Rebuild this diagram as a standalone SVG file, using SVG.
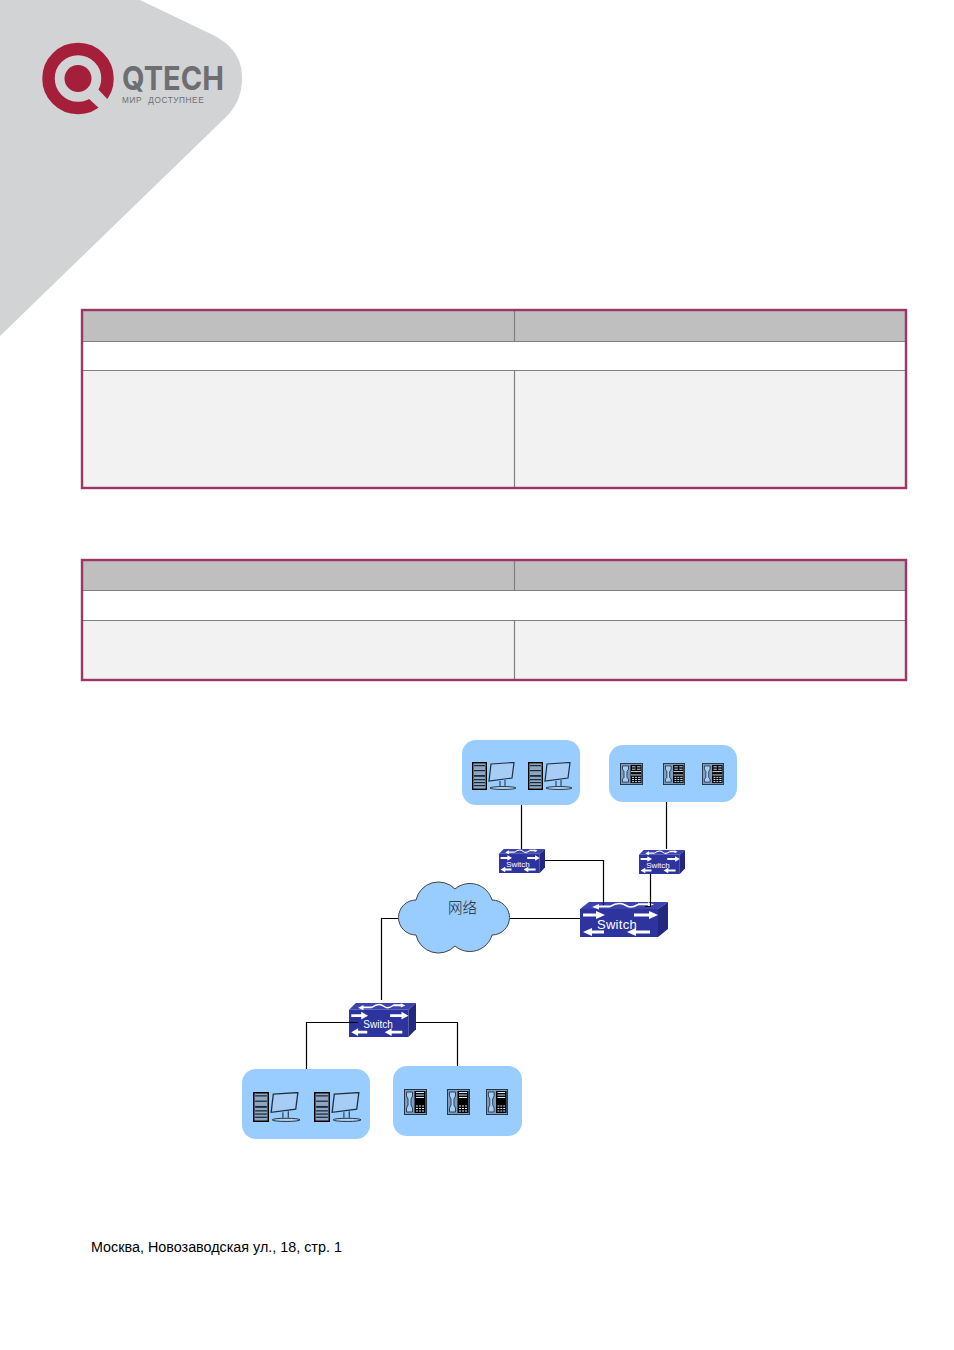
<svg xmlns="http://www.w3.org/2000/svg" xmlns:xlink="http://www.w3.org/1999/xlink" width="954" height="1350" viewBox="0 0 954 1350">
<style>
.sans{font-family:"Liberation Sans",Arial,sans-serif}
.group{fill:#99ccff}
.wire{fill:none;stroke:#000;stroke-width:1.2}
.outer{fill:none;stroke:#9b3667;stroke-width:2.4}
.inner{stroke:#808080;stroke-width:1.2;fill:none}
.head{fill:#bfbfbf}
.body{fill:#f2f2f2}
.sw{fill:#fff;font-family:"Liberation Sans",Arial,sans-serif;text-anchor:middle}
</style>
<defs>
<symbol id="switch" viewBox="0 0 88 35" preserveAspectRatio="none">
<polygon points="0,7 78,7 78,35 0,35" fill="#2d349e"/>
<polygon points="0,7 9,0 88,0 78,7" fill="#3c43ad"/>
<polygon points="78,7 88,0 88,27 78,35" fill="#23277f"/>
<g fill="#fff">
<polygon points="3,11.500 16,11.500 16,9 25,13 16,17 16,14.500 3,14.500"/>
<polygon points="54,11.500 69,11.500 69,9 78,13 69,17 69,14.500 54,14.500"/>
<polygon points="24,28.500 12,28.500 12,26 3,30 12,34 12,31.500 24,31.500"/>
<polygon points="70,28.500 56,28.500 56,26 47,30 56,34 56,31.500 70,31.500"/>
<polygon points="30,3.500 19,3.500 19,2 12,5 19,7.500 19,5.500 30,5.500"/>
<polygon points="58,1.200 68,1.200 68,0.300 74,2.500 68,4.700 68,3.300 58,3.300"/>
<path d="M30 4.500C36 1 42 1 46 3.500C50 6 54 5 58 2.500" fill="none" stroke="#fff" stroke-width="1.500"/>
</g>
</symbol>
<symbol id="pc" viewBox="0 0 44 28" preserveAspectRatio="none">
<rect x="0.700" y="0.700" width="13.600" height="26.600" fill="#8ea6bf" stroke="#000" stroke-width="1.400"/>
<g fill="#1c2c3e">
<rect x="2" y="3" width="11" height="1.200"/><rect x="2" y="8" width="11" height="1.200"/><rect x="2" y="13" width="11" height="1.800"/><rect x="2" y="17" width="11" height="1.200"/><rect x="2" y="20" width="11" height="1.200"/><rect x="2" y="23" width="11" height="1.200"/>
</g>
<polygon points="19,2 42,0.500 40,16 17,19" fill="#a8cdf5" stroke="#1f2f40" stroke-width="1.200"/>
<path d="M28 19V24M33 18V24" stroke="#1f2f40" fill="none"/>
<ellipse cx="31" cy="26" rx="13" ry="1.500" fill="#b6d2ee" stroke="#1f2f40" stroke-width="0.900"/>
</symbol>
<symbol id="phone" viewBox="0 0 23 23" preserveAspectRatio="none">
<rect x="0.500" y="0.500" width="22" height="22" fill="#7f9dbd" stroke="#24364a"/>
<path d="M2.500 3H8.500V6.500L7 9V15L8.500 17V20H2.500V17L4 15V9L2.500 6.500Z" fill="#a6cdf5" stroke="#24364a" stroke-width="0.900"/>
<rect x="10.500" y="2" width="11" height="19" fill="#000"/>
<g fill="#d8e8f8">
<rect x="12" y="3.500" width="3.500" height="1"/><rect x="17" y="3.500" width="3.500" height="1"/><rect x="12" y="6" width="3.500" height="1"/><rect x="17" y="6" width="3.500" height="1"/>
<rect x="11" y="8.500" width="10" height="1"/><rect x="11" y="12" width="10" height="1"/>
<rect x="12" y="14.500" width="2" height="1"/><rect x="15" y="14.500" width="2" height="1"/><rect x="18" y="14.500" width="2.500" height="1"/>
<rect x="12" y="16.800" width="2" height="1"/><rect x="15" y="16.800" width="2" height="1"/><rect x="18" y="16.800" width="2.500" height="1"/>
<rect x="12" y="19" width="2" height="1"/><rect x="15" y="19" width="2" height="1"/><rect x="18" y="19" width="2.500" height="1"/>
</g>
</symbol>
<symbol id="phone-tall" viewBox="0 0 23 26" preserveAspectRatio="none">
<rect x="0.500" y="0.500" width="22" height="25" fill="#7f9dbd" stroke="#24364a"/>
<path d="M2.500 3H8.500V7L7 10V16L8.500 19V23H2.500V19L4 16V10L2.500 7Z" fill="#a6cdf5" stroke="#24364a" stroke-width="0.900"/>
<rect x="10.500" y="2" width="11" height="22" fill="#000"/>
<g fill="#d8e8f8">
<rect x="12" y="3" width="8" height="1"/><rect x="12" y="5.500" width="8" height="1"/><rect x="12" y="8" width="8" height="1"/>
<rect x="12" y="16.500" width="2" height="1"/><rect x="15" y="16.500" width="2" height="1"/><rect x="18" y="16.500" width="2" height="1"/>
<rect x="12" y="19" width="2" height="1"/><rect x="15" y="19" width="2" height="1"/><rect x="18" y="19" width="2" height="1"/>
<rect x="12" y="21.500" width="2" height="1"/><rect x="15" y="21.500" width="2" height="1"/><rect x="18" y="21.500" width="2" height="1"/>
</g>
</symbol>
</defs>
<rect width="954" height="1350" fill="#fff"/>
<g id="logo">
<path d="M140 0L213 35C236 47 242 62 242 78C242 92 238 104 228 115L0 336V0Z" fill="#d1d3d4"/>
<circle cx="78" cy="78.500" r="29.500" fill="none" stroke="#a51e3a" stroke-width="12.500"/>
<circle cx="78" cy="78.500" r="13.500" fill="#a51e3a"/>
<polygon points="97,88 110,102 101,110 88,98" fill="#d1d3d4"/>
<text x="122" y="90" font-size="33" font-weight="700" fill="#6d6e71" font-family="Inter,'Liberation Sans',sans-serif" textLength="102" lengthAdjust="spacingAndGlyphs">QTECH</text>
<text class="sans" x="122" y="103" font-size="8.200" fill="#6d6e71" letter-spacing="0.600" word-spacing="3.500">МИР ДОСТУПНЕЕ</text>
</g>
<g id="table-1">
<rect class="head" x="82" y="310" width="824" height="31"/>
<rect class="body" x="82" y="370" width="824" height="118"/>
<path class="inner" d="M82 341.500H906M82 370.500H906M514.500 310V341M514.500 370V488"/>
<rect class="outer" x="82" y="310" width="824" height="178"/>
</g>
<g id="table-2">
<rect class="head" x="82" y="560" width="824" height="30"/>
<rect class="body" x="82" y="620" width="824" height="60"/>
<path class="inner" d="M82 590.500H906M82 620.500H906M514.500 560V590M514.500 620V680"/>
<rect class="outer" x="82" y="560" width="824" height="120"/>
</g>
<g id="cloud">
<path d="M416 900A23 23 0 0 1 455 889A23 23 0 0 1 492 900A17.500 17.500 0 0 1 492 935A23 23 0 0 1 455 946A23 23 0 0 1 416 935A17.500 17.500 0 0 1 416 900Z" fill="#99ccff" stroke="#444" stroke-width="1"/>
<text x="448" y="913" font-size="14.500" fill="#222" font-family="'Noto Sans CJK SC',sans-serif" font-weight="300">网络</text>
</g>
<g id="switch-core">
<use xlink:href="#switch" href="#switch" x="580" y="902" width="88" height="35"/>
<text class="sw" x="617" y="929" font-size="13" letter-spacing="0.300">Switch</text>
</g>
<g id="switch-a">
<use xlink:href="#switch" href="#switch" x="499" y="849" width="46" height="24"/>
<text class="sw" x="518" y="867" font-size="8">Switch</text>
</g>
<g id="switch-b">
<use xlink:href="#switch" href="#switch" x="639" y="850" width="46" height="24"/>
<text class="sw" x="658" y="868" font-size="8">Switch</text>
</g>
<g id="switch-c">
<use xlink:href="#switch" href="#switch" x="349" y="1003" width="67" height="34"/>
<text class="sw" x="378" y="1028" font-size="10">Switch</text>
</g>
<g id="connectors">
<path class="wire" d="M521.500 805V849"/>
<path class="wire" d="M666.500 802V849"/>
<path class="wire" d="M545 860.500H603.500V905"/>
<path class="wire" d="M650.500 874V906.500H645"/>
<path class="wire" d="M510 918.500H580"/>
<path class="wire" d="M398 918.500H381.500V1000"/>
<path class="wire" d="M358 1022.500H306.500V1069"/>
<path class="wire" d="M416 1022.500H457.500V1066"/>
</g>
<g id="group-pc-top">
<rect class="group" x="462" y="740" width="118" height="65" rx="14"/>
<use xlink:href="#pc" href="#pc" x="472" y="762" width="44" height="28"/>
<use xlink:href="#pc" href="#pc" x="528" y="762" width="44" height="28"/>
</g>
<g id="group-phone-top">
<rect class="group" x="609" y="745" width="128" height="57" rx="14"/>
<use xlink:href="#phone" href="#phone" x="620" y="763" width="23" height="22"/>
<use xlink:href="#phone" href="#phone" x="663" y="763" width="22" height="22"/>
<use xlink:href="#phone" href="#phone" x="702" y="763" width="22" height="22"/>
</g>
<g id="group-pc-bottom">
<rect class="group" x="242" y="1069" width="128" height="70" rx="14"/>
<use xlink:href="#pc" href="#pc" x="253" y="1092" width="47" height="30"/>
<use xlink:href="#pc" href="#pc" x="314" y="1092" width="47" height="30"/>
</g>
<g id="group-phone-bottom">
<rect class="group" x="393" y="1066" width="129" height="70" rx="14"/>
<use xlink:href="#phone-tall" href="#phone-tall" x="404" y="1089" width="23" height="26"/>
<use xlink:href="#phone-tall" href="#phone-tall" x="447" y="1089" width="23" height="26"/>
<use xlink:href="#phone-tall" href="#phone-tall" x="486" y="1089" width="22" height="26"/>
</g>
<text id="footer" class="sans" x="91" y="1252" font-size="14.350" fill="#000">Москва, Новозаводская ул., 18, стр. 1</text>
</svg>
